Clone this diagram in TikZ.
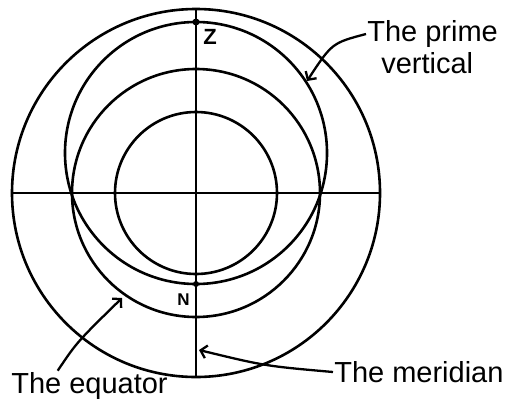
\documentclass[tikz,border=0pt]{standalone}
\usepackage{fontspec}
\setmainfont{Liberation Sans}
\usetikzlibrary{arrows.meta, calc}

\begin{document}
\begin{tikzpicture}[x=1pt, y=-1pt, line width=2.6pt,
  every node/.style={inner sep=0pt},
  labeltext/.style={font=\fontsize{29}{34}\selectfont},
  pointlabel/.style={font=\fontsize{22}{26}\selectfont},
  pointer/.style={line width=2.3pt, -{Straight Barb[length=6pt, width=13pt]}},
  pointdot/.style={circle, fill, minimum size=7pt}]
  \useasboundingbox (0,0) rectangle (505,410);
  % centres of the circles
  \coordinate (O) at (196,193);
  \coordinate (P) at (196,153);
  % outer circle, equator, inner circle
  \draw (O) circle[radius=184];
  \draw (O) circle[radius=124];
  \draw (O) circle[radius=81];
  % prime vertical
  \draw (P) circle[radius=131];
  % horizon and meridian
  \coordinate (W) at ($(O)+(-184,0)$);
  \coordinate (E) at ($(O)+(184,0)$);
  \coordinate (top) at ($(O)+(0,-184)$);
  \coordinate (bot) at ($(O)+(0,184)$);
  \draw (W) -- (E);
  \draw (top) -- (bot);
  % zenith and pole
  \node[pointdot] (zen) at ($(P)+(0,-131)$) {};
  \node[pointdot, minimum size=6pt] (pole) at ($(P)+(0,131)$) {};
  \node[pointlabel, anchor=north west] (zlab) at (202,28) {\textbf{Z}};
  \node[pointlabel, font=\fontsize{17}{20}\selectfont, anchor=north east] (nlab) at (191,292) {\textbf{N}};
  % labels
  \node[labeltext, anchor=west] (pvlab) at (366,34) {The prime};
  \node[labeltext, anchor=base west] (pvlab2) at (380,73) {vertical};
  \node[labeltext, anchor=west] (merlab) at (333,372) {The meridian};
  \node[labeltext, anchor=base west] (eqlab) at (10,393) {The equator};
  % arrow tips
  \coordinate (pvtip) at (307,81);
  \coordinate (mertip) at (199,350);
  \coordinate (eqtip) at (122,298);
  \draw[pointer] (pvlab.west) .. controls (332,43) .. (pvtip);
  \draw[pointer] (merlab.west) .. controls (265,366) .. (mertip);
  \draw[pointer] ($(eqlab.north west)!0.3!(eqlab.north east)$) .. controls (77,342) .. (eqtip);
\end{tikzpicture}
\end{document}
